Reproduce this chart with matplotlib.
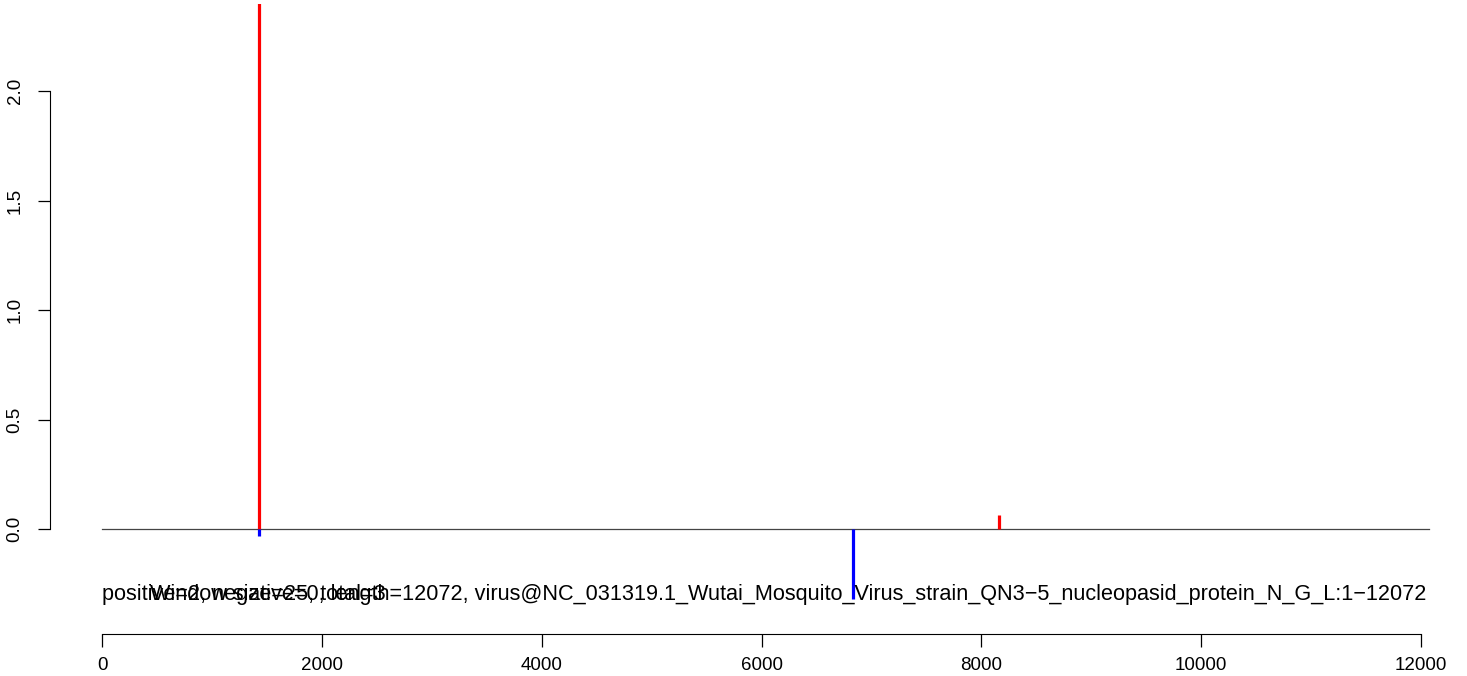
import matplotlib
matplotlib.use("Agg")
import matplotlib.pyplot as plt

plt.rcParams['font.family'] = ['Liberation Sans', 'DejaVu Sans']

# peak positions and heights (positive strand up, negative strand down)
pos_x = [1428, 8162]
pos_y = [2.40, 0.064]
neg_x = [1428, 6834]
neg_y = [-0.032, -0.32]
seq_len = 12072
label_main = ("positive=2, negative=0, length=12072, "
              "virus@NC_031319.1_Wutai_Mosquito_Virus_strain_QN3\u22125_nucleopasid_protein_N_G_L:1\u221212072")
label_win = "Window size=25, total=3"
xticks = [0, 2000, 4000, 6000, 8000, 10000, 12000]
yticks = [0.0, 0.5, 1.0, 1.5, 2.0]

W, H = 1467, 676
fig = plt.figure(figsize=(W / 100, H / 100), dpi=100)
ax = fig.add_axes([50 / W, (H - 610) / H, (W - 50) / W, 606 / H])

px_per_x = 1319 / 12000
ax.set_xlim(-(102 - 50) / px_per_x, (W - 102) / px_per_x)
ax.set_ylim(-(610 - 529) / 219, (529 - 4) / 219)

ax.plot([1, seq_len], [0, 0], color='#444444', lw=0.9)
ax.vlines(pos_x, 0, pos_y, color='red', lw=2.3)
ax.vlines(neg_x, 0, neg_y, color='blue', lw=2.3)

# the two labels overprint each other, as in the original
ax.text(1, -0.297, label_main, fontsize=15.6, va='center', ha='left')
ax.text(440, -0.297, label_win, fontsize=15.6, va='center', ha='left')

for s in ['top', 'right']:
    ax.spines[s].set_visible(False)
ax.spines['bottom'].set_position(('outward', 17))
ax.spines['bottom'].set_bounds(0, 12000)
ax.spines['left'].set_bounds(0, 2)
ax.set_xticks(xticks)
ax.set_xticklabels([str(t) for t in xticks])
ax.set_yticks(yticks)
ax.set_yticklabels(['%.1f' % t for t in yticks], rotation=90, va='center')
ax.tick_params(axis='both', length=9, width=0.9, labelsize=13.5, pad=8)
ax.tick_params(axis='y', pad=10)

fig.savefig("out.png", dpi=100)
